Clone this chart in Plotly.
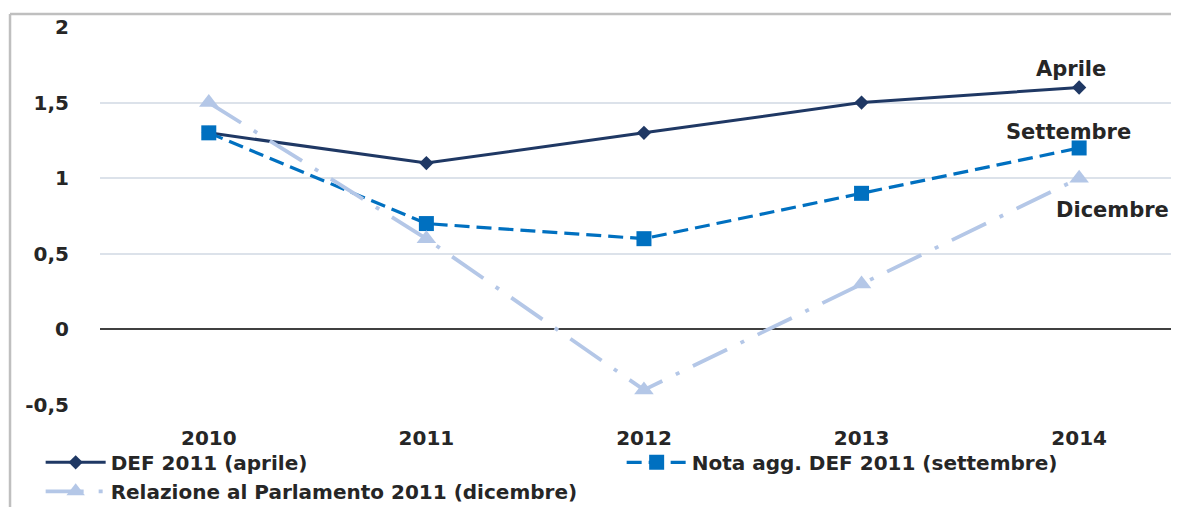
import plotly.graph_objects as go

years = ["2010", "2011", "2012", "2013", "2014"]
aprile = [1.3, 1.1, 1.3, 1.5, 1.6]
settembre = [1.3, 0.7, 0.6, 0.9, 1.2]
dicembre = [1.5, 0.6, -0.4, 0.3, 1.0]
names = ["DEF 2011 (aprile)", "Nota agg. DEF 2011 (settembre)",
         "Relazione al Parlamento 2011 (dicembre)"]
y_tickvals = [-0.5, 0, 0.5, 1, 1.5, 2]
y_ticktext = ["-0,5", "0", "0,5", "1", "1,5", "2"]
end_labels = ["Aprile", "Settembre", "Dicembre"]

FONT = "DejaVu Sans"
TXT = "#262626"
last = len(years) - 1

fig = go.Figure()
fig.add_trace(go.Scatter(
    x=years, y=aprile, name=names[0], mode="lines+markers",
    line=dict(color="#1f3864", width=3),
    marker=dict(symbol="diamond", size=11, color="#1f3864")))
fig.add_trace(go.Scatter(
    x=years, y=settembre, name=names[1], mode="lines+markers",
    line=dict(color="#0070c0", width=3.2, dash="15px,7px"),
    marker=dict(symbol="square", size=15, color="#0070c0")))
fig.add_trace(go.Scatter(
    x=years, y=dicembre, name=names[2], mode="lines+markers",
    line=dict(color="#b4c7e7", width=3.8, dash="38px,15px,4px,15px"),
    marker=dict(symbol="triangle-up", size=17, color="#b4c7e7")))

afont = dict(size=21, color=TXT, family=FONT, weight="bold")
fig.add_annotation(x=last, y=aprile[-1], text=end_labels[0], showarrow=False,
                   xshift=-8, yshift=18, font=afont)
fig.add_annotation(x=last, y=settembre[-1], text=end_labels[1], showarrow=False,
                   xshift=-11, yshift=16, font=afont)
fig.add_annotation(x=last, y=dicembre[-1], text=end_labels[2], showarrow=False,
                   xshift=33, yshift=-32, font=afont)

# outer frame (top and left edges); plot area is 1079x378 px, left at 92, top at 19
fig.add_shape(type="line", xref="paper", yref="paper", x0=-0.0834, x1=1.0, y0=1.0344, y1=1.0344,
              line=dict(color="#bfbfbf", width=2.5))
fig.add_shape(type="line", xref="paper", yref="paper", x0=-0.0834, x1=-0.0834, y0=1.0344, y1=-0.3,
              line=dict(color="#bfbfbf", width=2.5))

fig.update_layout(
    width=1171, height=499,
    margin=dict(l=92, r=0, t=19, b=102, autoexpand=False),
    paper_bgcolor="white", plot_bgcolor="white",
    font=dict(family=FONT, size=20, color=TXT, weight="bold"),
    xaxis=dict(type="category", range=[-0.5, 4.459], showgrid=False, showline=False,
               ticks="", ticklabelstandoff=19,
               tickfont=dict(size=20, family=FONT, color=TXT, weight="bold")),
    yaxis=dict(range=[-0.5, 2], tickvals=y_tickvals, ticktext=y_ticktext,
               showgrid=True, gridcolor="#dce2ea", gridwidth=1.5,
               zeroline=True, zerolinecolor="#404040", zerolinewidth=1.8,
               showline=False, ticks="", ticklabelstandoff=30,
               tickfont=dict(size=20, family=FONT, color=TXT, weight="bold")),
    legend=dict(orientation="h", xref="paper", yref="paper", x=-0.055, y=-0.1,
                xanchor="left", yanchor="top", entrywidth=506, entrywidthmode="pixels",
                tracegroupgap=0, itemwidth=60,
                font=dict(size=20, family=FONT, color=TXT, weight="bold"),
                bgcolor="rgba(0,0,0,0)"),
    showlegend=True,
)

fig.write_html("out.html")
